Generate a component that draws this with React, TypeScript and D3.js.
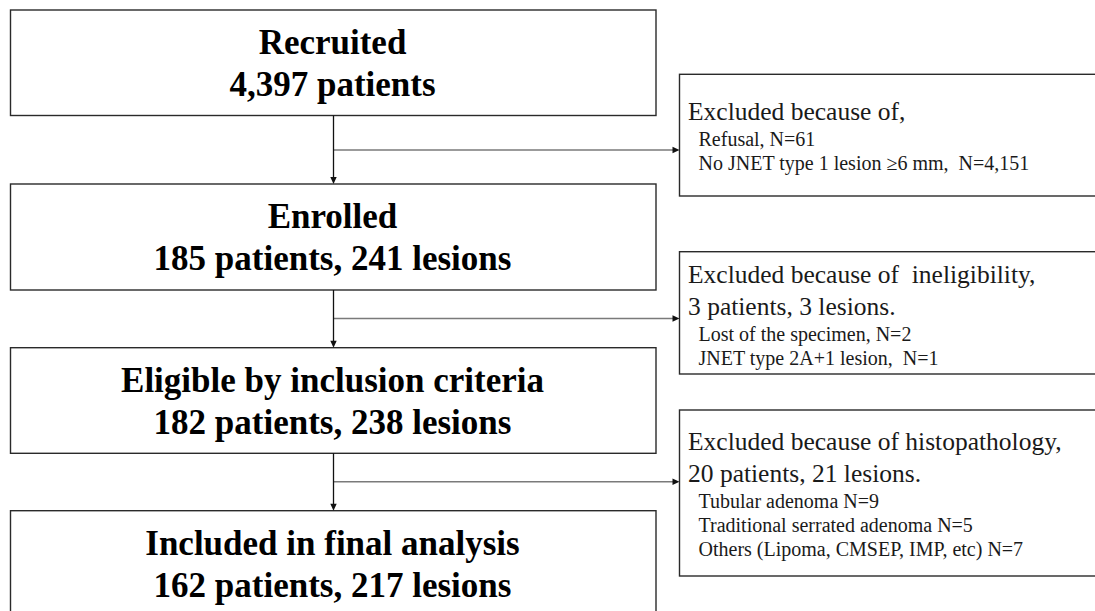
import React from "react";
import * as d3 from "d3";

// ---- Data (text content of the flow chart) ----
const stageTitles = [
  "Recruited",
  "Enrolled",
  "Eligible by inclusion criteria",
  "Included in final analysis",
];
const stageCounts = [
  "4,397 patients",
  "185 patients, 241 lesions",
  "182 patients, 238 lesions",
  "162 patients, 217 lesions",
];
const exclusionHeads = [
  ["Excluded because of,"],
  ["Excluded because of  ineligibility,", "3 patients, 3 lesions."],
  ["Excluded because of histopathology,", "20 patients, 21 lesions."],
];
const exclusionDetails = [
  ["Refusal, N=61", "No JNET type 1 lesion \u22656 mm,  N=4,151"],
  ["Lost of the specimen, N=2", "JNET type 2A+1 lesion,  N=1"],
  [
    "Tubular adenoma N=9",
    "Traditional serrated adenoma N=5",
    "Others (Lipoma, CMSEP, IMP, etc) N=7",
  ],
];

// ---- Layout ----
const W = 1095;
const H = 611;
const mainX0 = 10.5;
const mainX1 = 656;
const spineX = 333.5;
const mainBoxes = [
  { top: 10, bottom: 115.5 },
  { top: 184, bottom: 290 },
  { top: 347.7, bottom: 453.3 },
  { top: 510.7, bottom: 640 },
];
const sideX0 = 679.5;
const sideX1 = 1110;
const sideBoxes = [
  { top: 74.3, bottom: 196, arrowY: 150, firstBaseline: 120 },
  { top: 251.7, bottom: 374, arrowY: 318.5, firstBaseline: 283.3 },
  { top: 410, bottom: 576, arrowY: 481.7, firstBaseline: 450 },
];
const serif = "'Liberation Serif', 'Times New Roman', serif";

const line = d3.line<[number, number]>();

function ArrowHead({ x, y, dir }: { x: number; y: number; dir: "down" | "right" }) {
  const pts: [number, number][] =
    dir === "down"
      ? [
          [x - 3.2, y - 7],
          [x + 3.2, y - 7],
          [x, y],
        ]
      : [
          [x - 7, y - 3.2],
          [x - 7, y + 3.2],
          [x, y],
        ];
  return <path d={line(pts) + "Z"} fill="#111" />;
}

export default function App() {
  return (
    <svg
      width={W}
      height={H}
      viewBox={`0 0 ${W} ${H}`}
      style={{ position: "absolute", left: 0, top: 0, background: "#fff" }}
    >
      <rect x={0} y={0} width={W} height={H} fill="#fff" />
      {/* main boxes */}
      {mainBoxes.map((b, i) => (
        <g key={"m" + i}>
          <rect
            x={mainX0}
            y={b.top}
            width={mainX1 - mainX0}
            height={b.bottom - b.top}
            fill="#fff"
            stroke="#2a2a2a"
            strokeWidth={1.4}
          />
          <text
            x={spineX - 1}
            y={b.top + 44}
            textAnchor="middle"
            fontFamily={serif}
            fontWeight="bold"
            fontSize={35}
            fill="#000"
          >
            {stageTitles[i]}
          </text>
          <text
            x={spineX - 1}
            y={b.top + 86}
            textAnchor="middle"
            fontFamily={serif}
            fontWeight="bold"
            fontSize={35}
            fill="#000"
          >
            {stageCounts[i]}
          </text>
        </g>
      ))}
      {/* connectors */}
      {mainBoxes.slice(0, -1).map((b, i) => {
        const next = mainBoxes[i + 1];
        const s = sideBoxes[i];
        return (
          <g key={"c" + i}>
            <path
              d={line([
                [spineX, s.arrowY],
                [sideX0 - 6, s.arrowY],
              ]) as string}
              stroke="#7a7a7a"
              strokeWidth={1.6}
              fill="none"
            />
            <ArrowHead x={sideX0} y={s.arrowY} dir="right" />
            <path
              d={line([
                [spineX, b.bottom],
                [spineX, next.top - 6],
              ]) as string}
              stroke="#111"
              strokeWidth={1.3}
              fill="none"
            />
            <ArrowHead x={spineX} y={next.top} dir="down" />
          </g>
        );
      })}
      {/* side boxes */}
      {sideBoxes.map((s, i) => {
        const heads = exclusionHeads[i];
        const details = exclusionDetails[i];
        return (
          <g key={"s" + i}>
            <rect
              x={sideX0}
              y={s.top}
              width={sideX1 - sideX0}
              height={s.bottom - s.top}
              fill="#fff"
              stroke="#2a2a2a"
              strokeWidth={1.4}
            />
            {heads.map((t, j) => (
              <text
                key={"h" + j}
                x={sideX0 + 8.5}
                y={s.firstBaseline + j * 31.5}
                fontFamily={serif}
                fontSize={25.5}
                fill="#1a1a1a"
                style={{ whiteSpace: "pre" }}
              >
                {t}
              </text>
            ))}
            {details.map((t, j) => (
              <text
                key={"d" + j}
                x={sideX0 + 19}
                y={s.firstBaseline + (heads.length - 1) * 31.5 + 26 + j * 24.2}
                fontFamily={serif}
                fontSize={20}
                fill="#1a1a1a"
                style={{ whiteSpace: "pre" }}
              >
                {t}
              </text>
            ))}
          </g>
        );
      })}
    </svg>
  );
}
